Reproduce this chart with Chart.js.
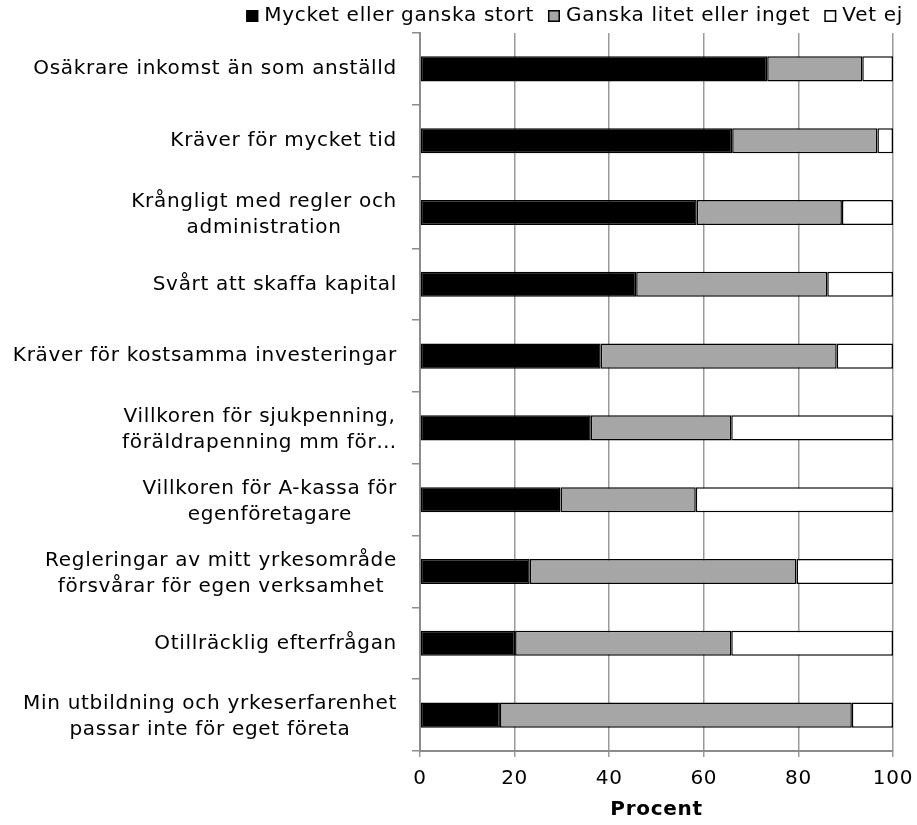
<!DOCTYPE html>
<html lang="sv">
<head>
<meta charset="utf-8">
<title>Hinder för eget företagande</title>
<script src="https://cdn.jsdelivr.net/npm/chart.js@4.4.1/dist/chart.umd.min.js"></script>
<style>
  html, body { margin: 0; padding: 0; background: #fff; }
  #wrap { width: 917px; height: 825px; }
</style>
</head>
<body>
<div id="wrap"><canvas id="chart" width="917" height="825"></canvas></div>
<script>
// ===== DATA =====
const categories = [
    'Osäkrare inkomst än som anställd',
    'Kräver för mycket tid',
    ['Krångligt med regler och', 'administration'],
    'Svårt att skaffa kapital',
    'Kräver för kostsamma investeringar',
    ['Villkoren för sjukpenning,', 'föräldrapenning mm för…'],
    ['Villkoren för A-kassa för', 'egenföretagare'],
    ['Regleringar av mitt yrkesområde', 'försvårar för egen verksamhet'],
    'Otillräcklig efterfrågan',
    ['Min utbildning och yrkeserfarenhet', 'passar inte för eget företa']
];
const seriesNames = ['Mycket eller ganska stort', 'Ganska litet eller inget', 'Vet ej'];
const storts = [73.4, 66.0, 58.5, 45.7, 38.2, 36.1, 29.7, 23.2, 20.1, 16.9];
const litets = [20.1, 30.7, 30.7, 40.4, 49.9, 29.7, 28.6, 56.4, 45.7, 74.4];
const vetEj  = [6.5, 3.3, 10.8, 13.9, 11.9, 34.2, 41.7, 20.4, 34.2, 8.7];
const xTicks = [0, 20, 40, 60, 80, 100];
const axisTitle = 'Procent';

// ===== STYLE =====
const FAMILY = '"DejaVu Sans", Verdana, sans-serif';
const SPACING = '0.7px';
const AXIS_GRAY = '#8c8c8c';

Chart.defaults.font.family = FAMILY;
Chart.defaults.font.size = 20;
Chart.defaults.color = '#000';

// y labels (right-aligned block, centered lines) + legend at top
const sideText = {
    id: 'sideText',
    beforeInit(chart) { chart.ctx.letterSpacing = SPACING; },
    beforeDraw(chart) { chart.ctx.letterSpacing = SPACING; },
    afterDraw(chart) {
        const { ctx, scales: { x, y } } = chart;
        ctx.save();
        ctx.letterSpacing = SPACING;
        ctx.font = '20px ' + FAMILY;
        ctx.fillStyle = '#000';
        ctx.textBaseline = 'middle';
        ctx.textAlign = 'center';

        categories.forEach((lab, i) => {
            const lines = Array.isArray(lab) ? lab : [lab];
            const w = Math.max(...lines.map(l => ctx.measureText(l).width));
            const cx = x.left - 23 - w / 2;
            const cy = y.getPixelForValue(i) + (lines.length > 1 ? 2 : 0);
            lines.forEach((l, k) => {
                ctx.fillText(l, cx, cy + (k - (lines.length - 1) / 2) * 26);
            });
        });

        // legend, right aligned
        const box = 12, gapText = 6, gapItem = 14, ly = 16;
        let right = 903;
        ctx.textAlign = 'left';
        chart.data.datasets.slice().reverse().forEach(ds => {
            const tw = ctx.measureText(ds.label).width;
            const tx = right - tw;
            ctx.fillStyle = '#000';
            ctx.fillText(ds.label, tx, ly);
            const bx = tx - gapText - box;
            ctx.fillStyle = ds.backgroundColor;
            ctx.fillRect(bx, ly - box / 2, box, box);
            ctx.strokeStyle = '#000';
            ctx.lineWidth = 1.5;
            ctx.strokeRect(bx + 0.75, ly - box / 2 + 0.75, box - 1.5, box - 1.5);
            right = bx - gapItem;
        });
        ctx.restore();
    }
};

const barStyle = { borderColor: '#000', borderWidth: 1.5, borderSkipped: false,
                   barPercentage: 0.35, categoryPercentage: 1 };

new Chart(document.getElementById('chart'), {
    type: 'bar',
    data: {
        labels: categories,
        datasets: [
            { label: seriesNames[0], data: storts, backgroundColor: '#000000', ...barStyle },
            { label: seriesNames[1], data: litets, backgroundColor: '#a6a6a6', ...barStyle },
            { label: seriesNames[2], data: vetEj,  backgroundColor: '#ffffff', ...barStyle }
        ]
    },
    options: {
        indexAxis: 'y',
        responsive: false,
        animation: false,
        layout: { padding: { left: 412, top: 33, right: 0, bottom: 3 } },
        plugins: {
            legend: { display: false },
            tooltip: { enabled: false }
        },
        scales: {
            x: {
                stacked: true,
                min: 0,
                max: 100,
                afterBuildTicks: s => { s.ticks = xTicks.map(v => ({ value: v })); },
                afterFit: s => { s.paddingRight = 24; },
                grid: { color: '#9a9a9a', lineWidth: 1.5, drawTicks: true, tickLength: 6 },
                border: { color: AXIS_GRAY, width: 2 },
                ticks: { padding: 10, font: { size: 20 }, color: '#000' },
                title: {
                    display: true,
                    text: axisTitle,
                    font: { size: 20, weight: 'bold' },
                    padding: { top: -3, bottom: 0 },
                    color: '#000'
                }
            },
            y: {
                stacked: true,
                grid: { offset: true, drawOnChartArea: false, drawTicks: true,
                        tickLength: 8, color: AXIS_GRAY, lineWidth: 1.5 },
                border: { color: AXIS_GRAY, width: 2 },
                ticks: { display: false }
            }
        }
    },
    plugins: [sideText]
});
</script>
</body>
</html>
